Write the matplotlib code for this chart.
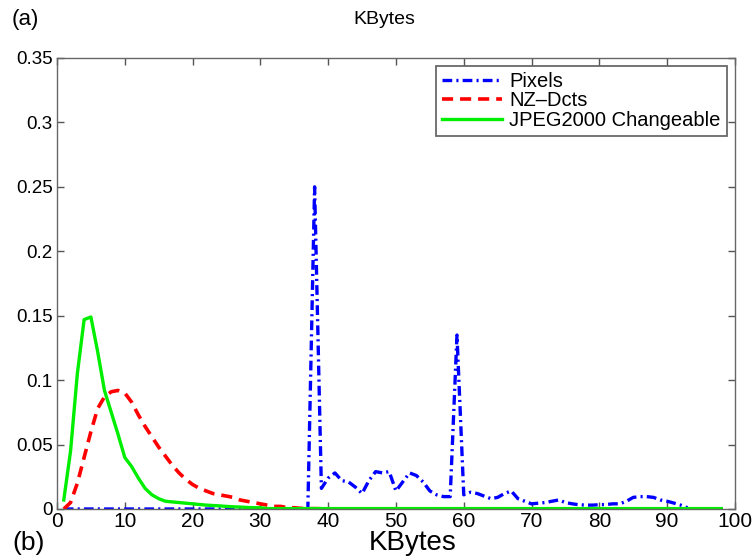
import numpy as np
import matplotlib
matplotlib.use('Agg')
import matplotlib.pyplot as plt

# ------------------------------- data ---------------------------------- #
kbytes = np.arange(1, 99)

pixels_x = np.arange(1, 94)
pixels = [0.0] * 37 + [
    0.25, 0.016, 0.024, 0.028, 0.022, 0.021, 0.017, 0.012, 0.022, 0.029,
    0.028, 0.029, 0.014, 0.021, 0.028, 0.026, 0.021, 0.014, 0.011, 0.0096,
    0.0096, 0.135, 0.011, 0.013, 0.012, 0.010, 0.008, 0.009, 0.012, 0.014,
    0.008, 0.006, 0.004, 0.0045, 0.005, 0.006, 0.007, 0.005, 0.004, 0.0033,
    0.003, 0.003, 0.0033, 0.0035, 0.004, 0.004, 0.006, 0.009, 0.0096, 0.0096,
    0.009, 0.007, 0.006, 0.0046, 0.003, 0.001]

nz_dcts_head = [0.0, 0.005, 0.02, 0.04, 0.06, 0.078, 0.087, 0.091, 0.092, 0.09,
                0.083, 0.073, 0.064, 0.056, 0.048, 0.041, 0.034, 0.028, 0.023, 0.019,
                0.016, 0.014, 0.012, 0.011, 0.010, 0.009, 0.007, 0.006, 0.005, 0.004,
                0.003, 0.002, 0.002, 0.001, 0.001, 0.0005, 0.0003, 0.0003, 0.0002, 0.0001]
nz_dcts = nz_dcts_head + [0.0] * (len(kbytes) - len(nz_dcts_head))

jpeg_head = [0.007, 0.045, 0.105, 0.147, 0.149, 0.122, 0.092, 0.075, 0.058, 0.040,
             0.033, 0.024, 0.016, 0.011, 0.008, 0.006, 0.0055, 0.005, 0.0045, 0.004,
             0.0035, 0.003, 0.0027, 0.0024, 0.002, 0.0017, 0.0015, 0.0012, 0.001, 0.001]
jpeg = jpeg_head + [0.0003] * (len(kbytes) - len(jpeg_head))

xticks = np.arange(0, 101, 10)
yticks = [0, 0.05, 0.1, 0.15, 0.2, 0.25, 0.3, 0.35]
ytick_labels = ['0', '0.05', '0.1', '0.15', '0.2', '0.25', '0.3', '0.35']

# ------------------------------- plot ---------------------------------- #
plt.rcParams['font.family'] = ['Liberation Sans', 'DejaVu Sans']
plt.rcParams['lines.scale_dashes'] = False

fig = plt.figure(figsize=(7.53, 5.57), dpi=100)
ax = fig.add_axes([0.0757, 0.0862, 0.9003, 0.8097])

ax.plot(pixels_x, pixels, color='#0000ff', lw=2.4,
        linestyle=(0, (7, 3, 1.5, 3)), label='Pixels')
ax.plot(kbytes, nz_dcts, color='#ff0000', lw=2.6,
        linestyle=(0, (8, 5)), label='NZ\u2013Dcts')
ax.plot(kbytes, jpeg, color='#00ee00', lw=2.4, label='JPEG2000 Changeable')

ax.set_xlim(0, 100)
ax.set_ylim(0, 0.35)
ax.set_xticks(xticks)
ax.set_yticks(yticks)
ax.set_yticklabels(ytick_labels)
ax.tick_params(direction='in', length=5, width=1, color='#555555',
               top=True, right=True, labelsize=13.5, pad=3)
ax.tick_params(axis='x', labelsize=15, pad=2)
for s in ax.spines.values():
    s.set_color('#666666')
    s.set_linewidth(1)

leg = ax.legend(loc='upper right', fontsize=14.5, handlelength=3.0,
                borderaxespad=0.4, labelspacing=0.02, fancybox=False,
                borderpad=0.3, handletextpad=0.35)
leg.get_frame().set_edgecolor('#444444')
leg.get_frame().set_linewidth(1.3)

fig.text(0.016, 0.965, '(a)', fontsize=16, va='center', ha='left')
fig.text(0.511, 0.965, 'KBytes', fontsize=14, va='center', ha='center')
fig.text(0.016, 0.012, '(b)', fontsize=19, va='baseline', ha='left')
fig.text(0.548, 0.012, 'KBytes', fontsize=20, va='baseline', ha='center')

plt.savefig('out.png', dpi=100)
plt.close()
